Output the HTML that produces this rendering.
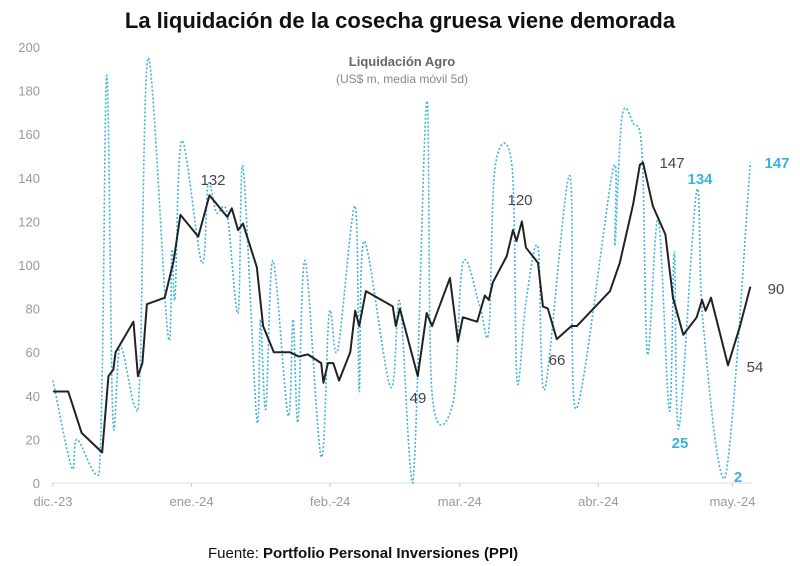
<!DOCTYPE html>
<html><head><meta charset="utf-8"><style>
body{margin:0;background:#fff;}
svg{display:block;font-family:"Liberation Sans",sans-serif;}
</style></head><body>
<svg id="chart" width="800" height="566" viewBox="0 0 800 566">
<text x="400" y="28" text-anchor="middle" font-size="22" font-weight="bold" fill="#111">La liquidación de la cosecha gruesa viene demorada</text>
<text x="402" y="66" text-anchor="middle" font-size="13" font-weight="bold" fill="#666">Liquidación Agro</text>
<text x="402" y="83" text-anchor="middle" font-size="12" fill="#888">(US$ m, media móvil 5d)</text>
<text x="208" y="558" font-size="15" fill="#111">Fuente: <tspan font-weight="bold">Portfolio Personal Inversiones (PPI)</tspan></text>
<g id="axes"></g><g id="series"></g><g id="labels"></g>
</svg>
<script>
const yTicks=[0,20,40,60,80,100,120,140,160,180,200];
const monthLabels=["dic.-23","ene.-24","feb.-24","mar.-24","abr.-24","may.-24"];
const monthDays=[0,31,62,91,122,152];
const blackDays=[0,3.4,6.4,11,12.4,13.5,14,18,19,20,21,25,27,28.5,32.5,35,39,40,41.4,42.5,45.6,47,49.4,53,55,57,60,60.5,61.5,62.7,64,66.5,67.6,68.5,70,76,76.7,77.6,81.6,83.6,84.8,88.8,90.6,91.7,94.9,96.6,97.5,98.4,101.5,102.9,103.7,104.9,105.8,108.5,109.6,110.7,112.7,116,117.2,124.6,126.8,129.8,131.3,132,134.2,137,138.7,141,144,145.2,146,147.2,151,153.7,156];
const blackVals=[42,42,23,14,49,52,60,74,49,55,82,85,102,123,113,132,122,126,116,119,99,72,60,60,58,59,55,46,55,55,47,60,79,72,88,81,72,80,49,78,72,94,65,76,74,86,84,92,104,116,111,120,108,101,81,80,66,72,72,88,101,128,146,147,127,114,85,68,76,84,79,85,54,72,90];
const blueDays=[0,4.2,5.4,10.3,12,13.4,15,18.3,19.5,21.3,25.7,26.6,27.3,28.8,33.3,34.7,36.6,38.9,41.4,42.5,45.6,46.4,47.6,49.2,52.6,53.7,54.8,56.4,60,61.8,63.7,67.6,68.5,69.6,75.5,77.6,80.5,83.6,84.8,89.5,91.7,95.5,97.5,98.9,102.7,103.8,105.8,108.5,110,115.6,117,125.3,125.7,127.3,129.8,131.8,133,135.4,137.9,139,140,144,145.4,150.3,156];
const blueVals=[47,7,20,4,187,29,63,35,53,195,68,107,85,157,101,137,124,124,78,145,29,75,34,102,31,75,28,102,12,78,61,127,42,111,44,83,0,175,41,37,101,81,70,145,145,47,83,108,43,141,34,144,109,168,165,151,59,121,33,106,25,134,74,2,147];
const ns="http://www.w3.org/2000/svg";
const X=d=>53+d*4.47, Y=v=>483-v*2.18;
function mk(t,a,p){const e=document.createElementNS(ns,t);for(const k in a)e.setAttribute(k,a[k]);p.appendChild(e);return e;}
const ax=document.getElementById('axes'),se=document.getElementById('series'),lb=document.getElementById('labels');
yTicks.forEach(v=>{const t=mk('text',{x:40,y:Y(v)+5,'text-anchor':'end','font-size':13,fill:'#999'},ax);t.textContent=v;

});
const base=mk('line',{x1:52,x2:752,y1:483,y2:483,stroke:'#ddd','stroke-width':1},ax);


monthLabels.forEach((m,i)=>{const x=X(monthDays[i]);
const tk=mk('line',{x1:x,x2:x,y1:483,y2:487,stroke:'#ccc'},ax);


const t=mk('text',{x:x,y:506,'text-anchor':'middle','font-size':13,fill:'#999'},ax);t.textContent=m;

});
const cl=y=>Math.max(Y(200),Math.min(Y(0),y));
function smooth(ds,vs){const p=ds.map((d,i)=>[X(d),Y(vs[i])]);let s='M'+p[0][0]+','+p[0][1];
for(let i=0;i<p.length-1;i++){const p0=p[i-1]||p[i],p1=p[i],p2=p[i+1],p3=p[i+2]||p2;
s+=' C'+(p1[0]+(p2[0]-p0[0])/6)+','+cl(p1[1]+(p2[1]-p0[1])/6)+' '+(p2[0]-(p3[0]-p1[0])/6)+','+cl(p2[1]-(p3[1]-p1[1])/6)+' '+p2[0]+','+p2[1];}return s;}
const bl=mk('path',{d:smooth(blueDays,blueVals),fill:'none',stroke:'#3bb3de','stroke-width':1.6,'stroke-dasharray':'2 2'},se);


const bk=mk('path',{d:'M'+blackDays.map((d,i)=>X(d)+','+Y(blackVals[i])).join(' L'),fill:'none',stroke:'#222','stroke-width':2,'stroke-linejoin':'round'},se);


const annText=["132","120","49","66","147","134","147","90","54","25","2"];
const annX=[213,520,418,557,672,700,777,776,755,680,738];
const annY=[185,205,403,365,168,184,168,294,372,448,482];
const annC=["#444","#444","#444","#444","#444","#3bb3de","#3bb3de","#444","#444","#3bb3de","#3bb3de"];
annText.forEach((s,i)=>{const t=mk('text',{x:annX[i],y:annY[i],'text-anchor':'middle','font-size':15,'font-weight':(annC[i]=='#444'?'normal':'bold'),fill:annC[i]},lb);t.textContent=s;

});
</script>
</body></html>
